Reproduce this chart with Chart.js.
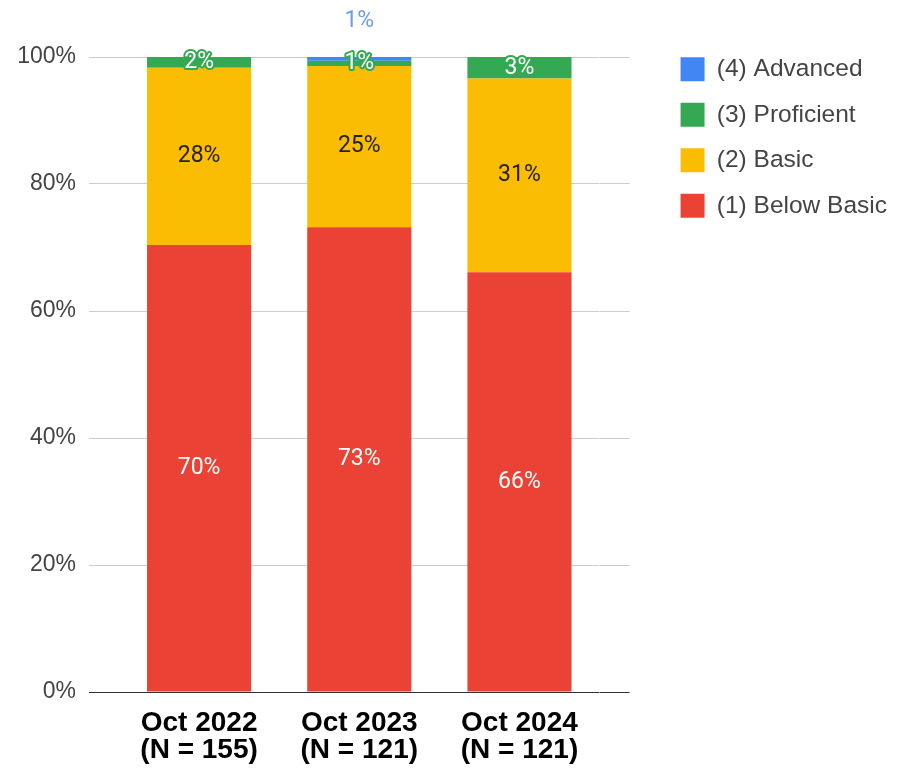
<!DOCTYPE html>
<html lang="en">
<head>
  <meta charset="UTF-8" />
  <title>Performance levels</title>
  <script src="https://cdn.jsdelivr.net/npm/chart.js"></script>
  <style>
    body {
      margin: 0;
      background: #fff;
    }

    .chart-box {
      width: 897px;
      height: 768px;
    }
  </style>
</head>
<body>
  <div class="chart-box">
    <canvas id="levelsChart"></canvas>
  </div>

  <script>
    const categories = [['Oct 2022', '(N = 155)'], ['Oct 2023', '(N = 121)'], ['Oct 2024', '(N = 121)']];
    const belowBasic = [70.4, 73.2, 66.1];
    const basic = [27.9, 25.4, 30.5];
    const proficient = [1.7, 0.8, 3.4];
    const advanced = [0, 0.6, 0];
    const yTicks = [0, 20, 40, 60, 80, 100];

    const gridColor = ctx => ctx.tick && ctx.tick.value === 0 ? '#333333' : '#cccccc';

    // percent labels on the segments, the tiny blue one goes above the bar
    const segmentLabels = {
      id: 'segmentLabels',
      afterDatasetsDraw(chart) {
        const ctx = chart.ctx;
        ctx.save();
        ctx.font = '23px Roboto, "Liberation Sans", Arial';
        ctx.textAlign = 'center';
        ctx.textBaseline = 'middle';
        chart.data.datasets.forEach((ds, i) => {
          const meta = chart.getDatasetMeta(i);
          meta.data.forEach((bar, j) => {
            const v = ds.data[j];
            if (!v) return;
            const text = Math.round(v) + '%';
            const mid = (bar.y + bar.base) / 2;
            if (ds.labelStyle === 'above') {
              ctx.fillStyle = '#6d9eeb';
              ctx.fillText(text, bar.x, bar.y - 36);
            } else if (ds.labelStyle === 'halo') {
              ctx.lineWidth = 4;
              ctx.lineJoin = 'round';
              ctx.strokeStyle = '#34a853';
              ctx.strokeText(text, bar.x, mid);
              ctx.fillStyle = '#ffffff';
              ctx.fillText(text, bar.x, mid);
            } else {
              ctx.fillStyle = ds.labelColor;
              ctx.fillText(text, bar.x, mid);
            }
          });
        });
        ctx.restore();
      }
    };

    Chart.defaults.font.family = '"Liberation Sans", Arial, sans-serif';

    new Chart(document.getElementById('levelsChart'), {
      type: 'bar',
      data: {
        labels: categories,
        datasets: [
          { label: '(1) Below Basic', data: belowBasic, backgroundColor: '#ea4335', labelColor: '#ffffff' },
          { label: '(2) Basic', data: basic, backgroundColor: '#fbbc04', labelColor: '#222222' },
          { label: '(3) Proficient', data: proficient, backgroundColor: '#34a853', labelStyle: 'halo' },
          { label: '(4) Advanced', data: advanced, backgroundColor: '#4285f4', labelStyle: 'above' }
        ]
      },
      options: {
        responsive: true,
        maintainAspectRatio: false,
        animation: false,
        layout: { padding: 0 },
        datasets: {
          bar: { barPercentage: 0.65, categoryPercentage: 1, borderWidth: 0 }
        },
        scales: {
          x: {
            stacked: true,
            grid: { display: false, drawTicks: false },
            border: { display: false },
            ticks: {
              color: '#000000',
              padding: 18,
              maxRotation: 0,
              font: { size: 28, weight: 'bold', lineHeight: 0.97 }
            },
            afterFit: scale => { scale.height = 76; }
          },
          y: {
            stacked: true,
            min: 0,
            max: 100,
            afterBuildTicks: scale => { scale.ticks = yTicks.map(v => ({ value: v })); },
            grid: { color: gridColor, drawTicks: true, tickLength: 30 },
            border: { display: false },
            ticks: {
              color: '#444444',
              padding: 13,
              font: { size: 23 },
              callback: v => v + '%'
            },
            afterFit: scale => { scale.width = 119; }
          },
          y2: {
            position: 'right',
            min: 0,
            max: 100,
            afterBuildTicks: scale => { scale.ticks = yTicks.map(v => ({ value: v })); },
            grid: { color: gridColor, drawOnChartArea: false, drawTicks: true, tickLength: 30 },
            border: { display: false },
            ticks: { display: false },
            afterFit: scale => { scale.width = 60; }
          }
        },
        plugins: {
          title: {
            display: true,
            text: '',
            fullSize: false,
            font: { size: 20, lineHeight: 1 },
            padding: { top: 37, bottom: 0 }
          },
          legend: {
            position: 'right',
            align: 'start',
            reverse: true,
            maxWidth: 260,
            title: {
              display: true,
              text: '',
              font: { size: 20, lineHeight: 1 },
              padding: { top: 16, bottom: 0 }
            },
            labels: {
              boxWidth: 24,
              boxHeight: 24,
              padding: 21,
              color: '#444444',
              font: { size: 24.5 }
            }
          },
          tooltip: { enabled: false }
        }
      },
      plugins: [segmentLabels]
    });
  </script>
</body>
</html>
